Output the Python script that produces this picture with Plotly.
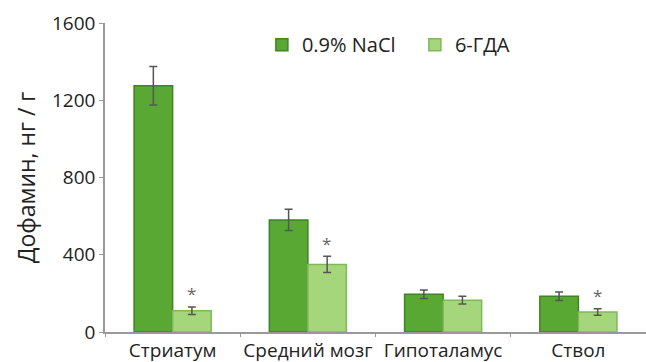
import plotly.graph_objects as go

# Dopamine content by brain region, ng/g
regions = ["Стриатум", "Средний мозг", "Гипоталамус", "Ствол"]
nacl_vals = [1275, 580, 195, 185]
nacl_err = [100, 55, 22, 22]
gda_vals = [110, 350, 165, 104]
gda_err = [20, 42, 20, 17]
significant = [True, True, False, True]

FONT = "Open Sans"

fig = go.Figure()
fig.add_trace(go.Bar(
    name="0.9% NaCl", x=regions, y=nacl_vals,
    error_y=dict(type="data", array=nacl_err, color="#555555", thickness=1.5, width=4),
    marker=dict(color="#5aa834", line=dict(color="#3f8322", width=1.5)),
))
fig.add_trace(go.Bar(
    name="6-ГДА", x=regions, y=gda_vals,
    error_y=dict(type="data", array=gda_err, color="#555555", thickness=1.5, width=4),
    marker=dict(color="#a6d67c", line=dict(color="#7fb85a", width=1.5)),
))

# significance marks above the 6-ГДА bars
for reg, v, e, s in zip(regions, gda_vals, gda_err, significant):
    if s:
        fig.add_annotation(x=reg, y=v + e, text="*", showarrow=False,
                           xshift=19, yshift=13,
                           font=dict(family=FONT, size=17, color="#666666"))

fig.update_layout(
    width=646, height=362,
    margin=dict(l=105, r=0, t=23, b=30, autoexpand=False),
    paper_bgcolor="white", plot_bgcolor="white",
    barmode="group", bargap=0.43, bargroupgap=0,
    font=dict(family=FONT, size=19, color="#222222"),
    legend=dict(orientation="h", x=0.29, y=0.93, xanchor="left", yanchor="middle",
                font=dict(family=FONT, size=20, color="#222222"),
                bgcolor="rgba(0,0,0,0)", itemwidth=30, traceorder="normal",
                entrywidth=108, entrywidthmode="pixels"),
    showlegend=True,
)
fig.update_yaxes(
    range=[0, 1600], tickvals=[0, 400, 800, 1200, 1600],
    showgrid=False, zeroline=False, automargin=False,
    showline=True, linecolor="#999999", linewidth=1.5,
    ticks="outside", ticklen=4, tickcolor="#999999",
    tickfont=dict(family=FONT, size=19, color="#222222"),
    title=dict(text="Дофамин, нг / г", font=dict(family=FONT, size=23, color="#222222"), standoff=10),
)
fig.update_xaxes(
    showgrid=False, showline=True, linecolor="#999999", linewidth=1.5,
    ticks="outside", ticklen=3, tickcolor="#999999", tickson="boundaries",
    tickangle=0, automargin=False,
    tickfont=dict(family=FONT, size=19, color="#222222"),
)

fig.write_html("out.html")
